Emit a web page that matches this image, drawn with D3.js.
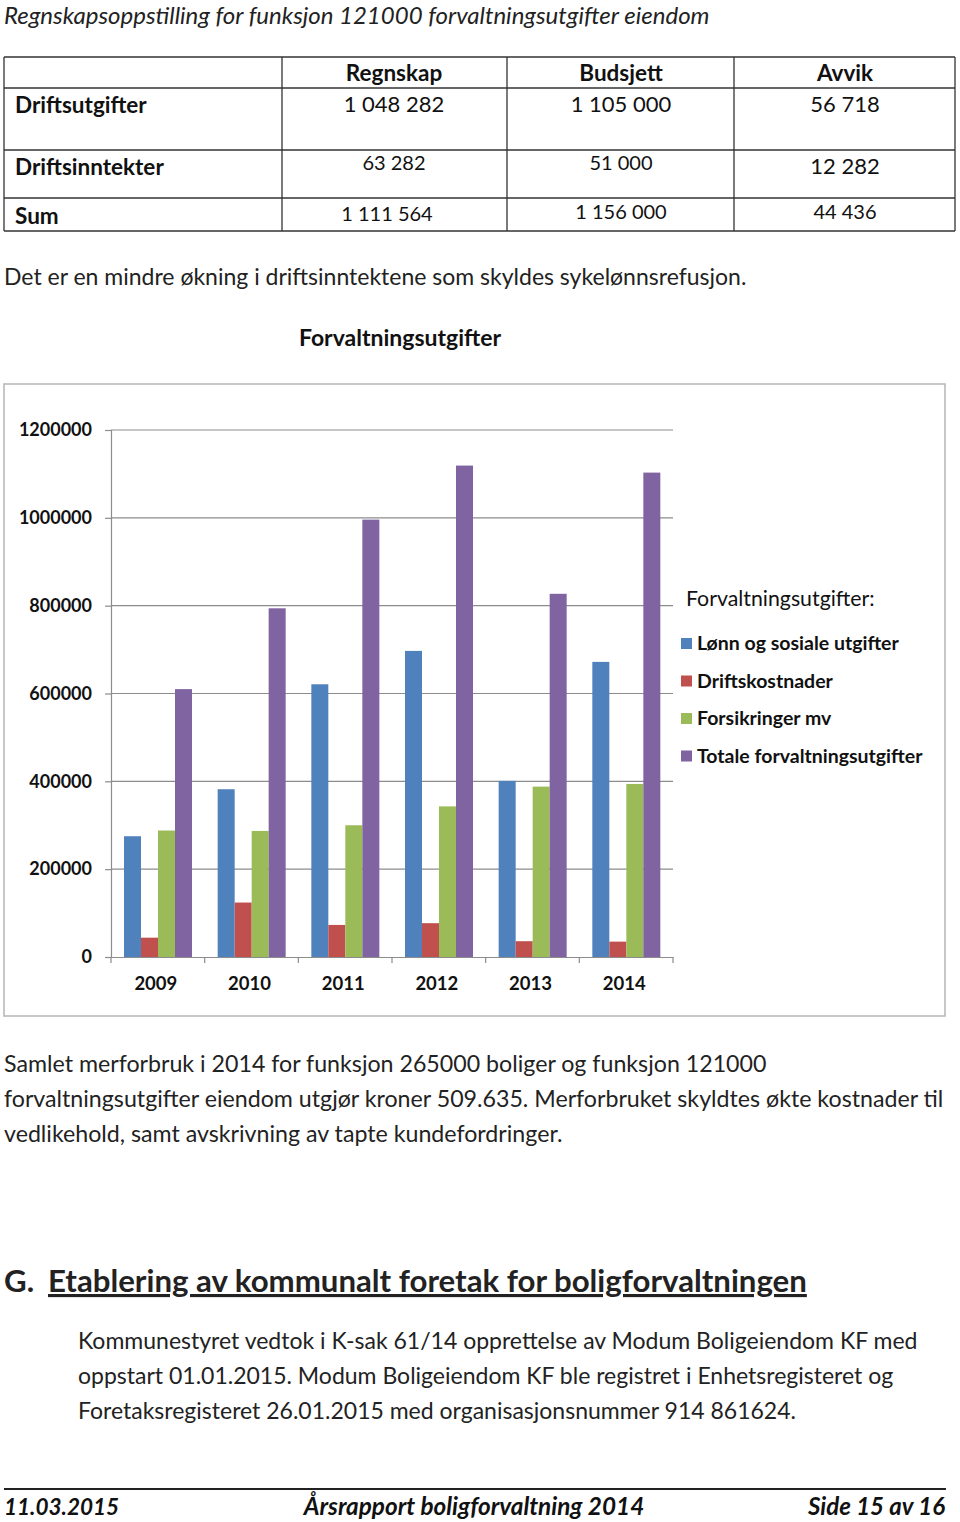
<!DOCTYPE html>
<html><head><meta charset="utf-8">
<script src="https://cdn.jsdelivr.net/npm/d3@7"></script>
<style>body{margin:0;background:#fff}svg{display:block}text{font-family:Lato,"Open Sans",sans-serif}</style>
</head><body>
<script>
const years = ["2009","2010","2011","2012","2013","2014"];
const seriesNames = ["Lønn og sosiale utgifter","Driftskostnader","Forsikringer mv","Totale forvaltningsutgifter"];
const lonn = [275000, 382000, 621000, 697000, 401000, 672000];
const drift = [44000, 124000, 73000, 77000, 36000, 35000];
const forsikring = [288000, 287000, 300000, 343000, 388000, 394000];
const totale = [610000, 794000, 996000, 1119000, 827000, 1103000];
const yTicks = [0, 200000, 400000, 600000, 800000, 1000000, 1200000];
const colors = ["#4F81BD","#C0504D","#9BBB59","#8064A2"];

const tableCols = ["Regnskap","Budsjett","Avvik"];
const tableRows = ["Driftsutgifter","Driftsinntekter","Sum"];
const regnskap = ["1 048 282","63 282","1 111 564"];
const budsjett = ["1 105 000","51 000","1 156 000"];
const avvik = ["56 718","12 282","44 436"];

const W = 960, H = 1522;
const svg = d3.select("body").append("svg").attr("width", W).attr("height", H);

// Top title
svg.append("text").attr("x", 4).attr("y", 23.5).attr("font-size", 24).attr("font-style", "italic")
  .attr("fill", "#222").text("Regnskapsoppstilling for funksjon 121000 forvaltningsutgifter eiendom");

// Table
const colX = [4, 282, 507, 734, 955];
const rowY = [57, 88, 150, 198, 231];
const tg = svg.append("g");
rowY.forEach((y) => tg.append("line").attr("x1", 4).attr("x2", 955).attr("y1", y).attr("y2", y)
  .attr("stroke", "#333").attr("stroke-width", 1.3));
colX.forEach((x) => tg.append("line").attr("x1", x).attr("x2", x)
  .attr("y1", 57).attr("y2", 231).attr("stroke", "#333").attr("stroke-width", 1.3));
const colCenters = [394, 621, 845];
tableCols.forEach((c, i) => tg.append("text").attr("x", colCenters[i]).attr("y", 81)
  .attr("text-anchor", "middle").attr("font-weight", "bold").attr("font-size", 22.5).attr("fill", "#111").text(c));
const labelY = [113, 175, 224];
tableRows.forEach((r, i) => tg.append("text").attr("x", 15).attr("y", labelY[i])
  .attr("font-weight", "bold").attr("font-size", 22.5).attr("fill", "#111").text(r));
const valY = [[112, 112, 112], [170, 170, 174], [221, 219, 219]];
const valCx = [[394, 621, 845], [394, 621, 845], [387, 621, 845]];
[regnskap, budsjett, avvik].forEach((arr, ci) => arr.forEach((v, ri) =>
  tg.append("text").attr("x", valCx[ri][ci]).attr("y", valY[ri][ci]).attr("text-anchor", "middle")
    .attr("font-size", ri === 0 || (ri === 1 && ci === 2) ? 22 : 20).attr("fill", "#111").text(v)));

// Paragraph
svg.append("text").attr("x", 4).attr("y", 285).attr("font-size", 23).attr("fill", "#222")
  .text("Det er en mindre økning i driftsinntektene som skyldes sykelønnsrefusjon.");

// Chart title
svg.append("text").attr("x", 400).attr("y", 346).attr("text-anchor", "middle").attr("font-weight", "bold")
  .attr("font-size", 23).attr("fill", "#111").text("Forvaltningsutgifter");

// Chart frame
svg.append("rect").attr("x", 4).attr("y", 384).attr("width", 941).attr("height", 632)
  .attr("fill", "#fff").attr("stroke", "#b5b5b5").attr("stroke-width", 1.5);

const x = d3.scaleBand().domain(years).range([111, 673]);
const y = d3.scaleLinear().domain([0, 1200000]).range([957, 430]);
const xs = d3.scaleBand().domain(seriesNames).range([13, 81]);

// Gridlines
svg.append("g").selectAll("line").data(yTicks.filter(d => d > 0)).join("line")
  .attr("x1", 111).attr("x2", 673).attr("y1", d => y(d)).attr("y2", d => y(d))
  .attr("stroke", "#8c8c8c").attr("stroke-width", 1.2);

// Bars
const seriesData = [lonn, drift, forsikring, totale];
const bars = svg.append("g");
seriesData.forEach((vals, si) => {
  bars.selectAll(null).data(years).join("rect")
    .attr("x", (d) => x(d) + xs(seriesNames[si]))
    .attr("width", xs.bandwidth())
    .attr("y", (d, i) => y(vals[i]))
    .attr("height", (d, i) => y(0) - y(vals[i]))
    .attr("fill", colors[si]);
});

// Y axis
const yAxis = svg.append("g").attr("transform", "translate(111,0)")
  .call(d3.axisLeft(y).tickValues(yTicks).tickFormat(d3.format("d")).tickSize(6).tickPadding(13));
yAxis.select(".domain").attr("stroke", "#8c8c8c").attr("stroke-width", 1.2);
yAxis.selectAll(".tick line").attr("stroke", "#8c8c8c").attr("stroke-width", 1.2);
yAxis.selectAll(".tick text").attr("font-family", "Lato").attr("font-weight", "bold").attr("font-size", 18).attr("fill", "#111");

// X axis
const xAxis = svg.append("g").attr("transform", "translate(0,957)")
  .call(d3.axisBottom(x).tickSize(0).tickPadding(20));
xAxis.select(".domain").attr("stroke", "#8c8c8c").attr("stroke-width", 1.2);
xAxis.selectAll(".tick text").attr("font-family", "Lato").attr("font-weight", "bold").attr("font-size", 18.5)
  .attr("fill", "#111").attr("dx", -2);
const bounds = years.map(d => x(d)).concat([673]);
svg.append("g").selectAll("line").data(bounds).join("line")
  .attr("x1", d => d).attr("x2", d => d).attr("y1", 957).attr("y2", 963)
  .attr("stroke", "#8c8c8c").attr("stroke-width", 1.2);

// Legend
const lg = svg.append("g");
lg.append("text").attr("x", 686).attr("y", 606).attr("font-size", 21.3).attr("fill", "#111").text("Forvaltningsutgifter:");
seriesNames.forEach((s, i) => {
  const yy = 643 + i * 37.5;
  lg.append("rect").attr("x", 681).attr("y", yy - 5).attr("width", 11).attr("height", 11).attr("fill", colors[i]);
  lg.append("text").attr("x", 697).attr("y", yy + 7).attr("font-weight", "bold").attr("font-size", 19.5).attr("fill", "#111").text(s);
});

// Text below chart
const para2 = ["Samlet merforbruk i 2014 for funksjon 265000 boliger og funksjon 121000",
  "forvaltningsutgifter eiendom utgjør kroner 509.635. Merforbruket skyldtes økte kostnader til",
  "vedlikehold, samt avskrivning av tapte kundefordringer."];
para2.forEach((t, i) => svg.append("text").attr("x", 4).attr("y", 1072 + i * 35).attr("font-size", 23.2).attr("fill", "#222").text(t));

// Heading
svg.append("text").attr("x", 4).attr("y", 1292).attr("font-size", 31.2).attr("font-weight", "bold").attr("fill", "#222").text("G.");
svg.append("text").attr("x", 48).attr("y", 1292).attr("font-size", 31.2).attr("font-weight", "bold")
  .attr("fill", "#222").attr("text-decoration", "underline").text("Etablering av kommunalt foretak for boligforvaltningen");

const para3 = ["Kommunestyret vedtok i K-sak 61/14 opprettelse av Modum Boligeiendom KF med",
  "oppstart 01.01.2015. Modum Boligeiendom KF ble registret i Enhetsregisteret og",
  "Foretaksregisteret 26.01.2015 med organisasjonsnummer 914 861624."];
para3.forEach((t, i) => svg.append("text").attr("x", 78).attr("y", 1349 + i * 35).attr("font-size", 23).attr("fill", "#222").text(t));

// Footer
svg.append("line").attr("x1", 4).attr("x2", 946).attr("y1", 1489).attr("y2", 1489).attr("stroke", "#222").attr("stroke-width", 2);
const ft = [["11.03.2015", 4, "start", 22.5], ["Årsrapport boligforvaltning 2014", 474, "middle", 24.3], ["Side 15 av 16", 945, "end", 24]];
ft.forEach(([t, xx, a, fs]) => svg.append("text").attr("x", xx).attr("y", 1515).attr("text-anchor", a)
  .attr("font-size", fs).attr("font-weight", "bold").attr("font-style", "italic").attr("fill", "#111").text(t));
</script>
</body></html>
